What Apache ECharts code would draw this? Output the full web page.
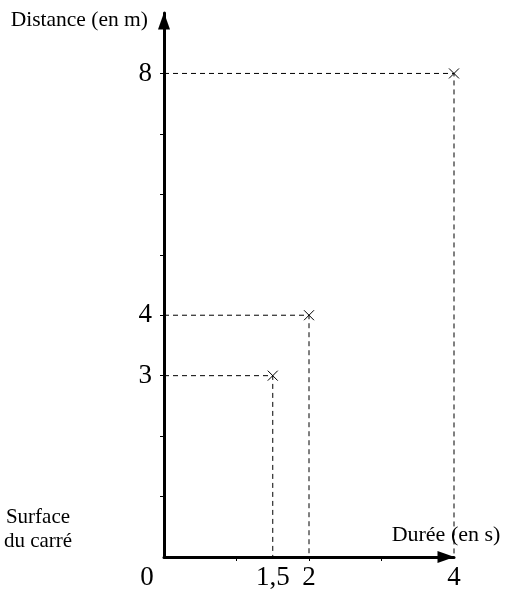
<!DOCTYPE html>
<html>
<head>
<meta charset="utf-8">
<script src="https://cdn.jsdelivr.net/npm/echarts@6/dist/echarts.min.js"></script>
<style>html,body{margin:0;padding:0;background:#fff}#c{width:508px;height:592px}</style>
</head>
<body>
<div id="c"></div>
<script>
const durations = [1.5, 2, 4];
const distances = [3, 4, 8];
const xLabelValues = [0, 1.5, 2, 4];
const xTickValues = [1, 2, 3];
const yLabelValues = [3, 4, 8];
const yTickValues = [1, 2, 3, 4, 5, 6, 7, 8];
const xName = 'Durée (en s)';
const yName = 'Distance (en m)';
const sideNote = 'Surface\ndu carré';

const FONT = '"Liberation Serif", "Times New Roman", serif';
const chart = echarts.init(document.getElementById('c'), null, {renderer: 'canvas'});

const guideSeries = durations.map((d, i) => ({
  type: 'line',
  data: [[0, distances[i]], [d, distances[i]], [d, 0]],
  symbol: 'none',
  silent: true,
  lineStyle: {color: '#000', width: 1, type: [5, 4]},
  z: 1
}));

chart.setOption({
  animation: false,
  backgroundColor: '#fff',
  grid: {left: 164, right: 54, top: 13, bottom: 35, containLabel: false},
  xAxis: {
    type: 'value', min: 0, max: 4,
    name: xName, nameLocation: 'end', nameGap: -8,
    nameTextStyle: {fontFamily: FONT, fontSize: 22, color: '#000', align: 'center', verticalAlign: 'bottom', padding: [0, 0, 11, 0]},
    axisLine: {show: true, lineStyle: {color: '#000', width: 3}, symbol: ['none', 'triangle'], symbolSize: [12, 17], symbolOffset: [0, -8]},
    axisTick: {show: true, customValues: xTickValues, length: 4, lineStyle: {color: '#000', width: 1}},
    axisLabel: {
      customValues: xLabelValues, margin: 7, fontFamily: FONT, fontSize: 27, color: '#000',
      formatter: v => v === 0 ? '{z|0}' : String(v).replace('.', ','),
      rich: {z: {fontFamily: FONT, fontSize: 27, color: '#000', padding: [0, 34, 0, 0]}}
    },
    splitLine: {show: false}
  },
  yAxis: {
    type: 'value', min: 0, max: 9,
    name: yName, nameLocation: 'end', nameGap: -7,
    nameTextStyle: {fontFamily: FONT, fontSize: 21.5, color: '#000', align: 'right', verticalAlign: 'middle', padding: [0, 16, 0, 0]},
    axisLine: {show: true, lineStyle: {color: '#000', width: 3}, symbol: ['none', 'triangle'], symbolSize: [12, 17], symbolOffset: [0, -8]},
    axisTick: {show: true, customValues: yTickValues, length: 4, lineStyle: {color: '#000', width: 1}},
    axisLabel: {customValues: yLabelValues, margin: 12, fontFamily: FONT, fontSize: 27, color: '#000'},
    splitLine: {show: false}
  },
  graphic: [{
    type: 'text', x: 38, y: 505,
    style: {text: sideNote, font: '21px ' + FONT, fill: '#000', align: 'center', verticalAlign: 'top', lineHeight: 24}
  }],
  series: guideSeries.concat([{
    type: 'scatter',
    data: durations.map((d, i) => [d, distances[i]]),
    symbol: 'path://M0,0L10,10M10,0L0,10',
    symbolSize: 10,
    itemStyle: {color: 'transparent', borderColor: '#000', borderWidth: 1, opacity: 1},
    z: 3
  }])
});
</script>
</body>
</html>
